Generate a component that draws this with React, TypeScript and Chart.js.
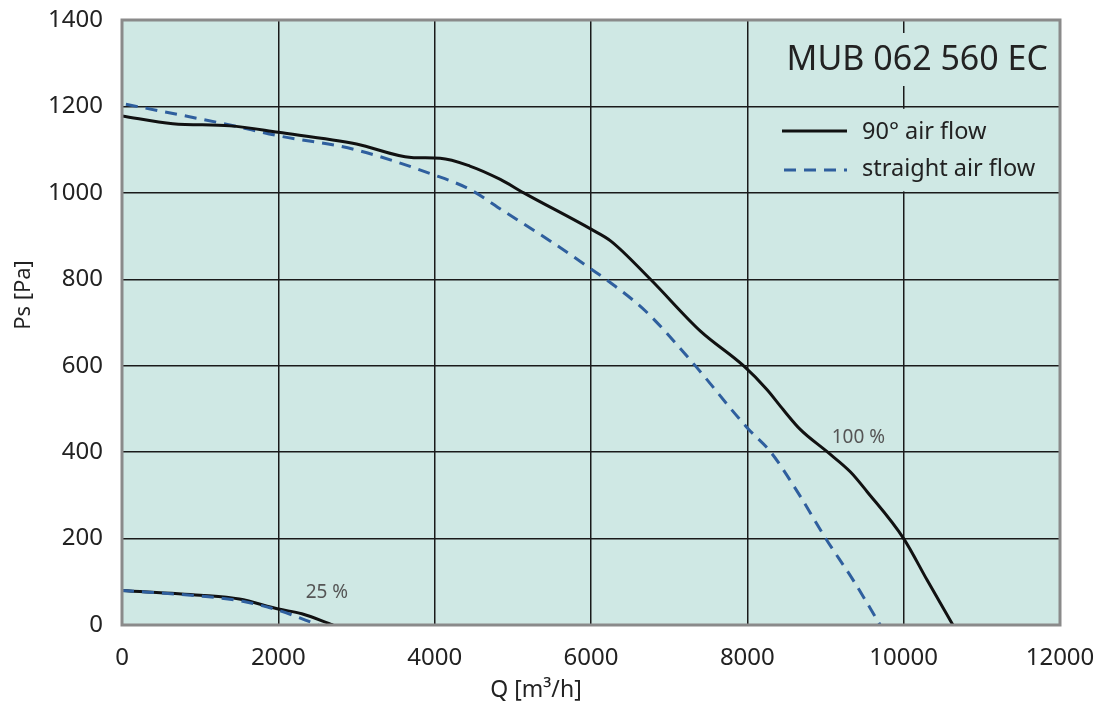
import React, { useEffect, useRef } from "react";
import { Chart, registerables } from "chart.js";

Chart.register(...registerables);

const FONT = "'Noto Sans', 'Open Sans', sans-serif";
const BG = "#cfe8e4";
const BLUE = "#2f5f9e";

const TITLE = "MUB 062 560 EC";
const LEGEND_90 = "90° air flow";
const LEGEND_STRAIGHT = "straight air flow";
const X_TITLE = "Q [m³/h]";
const Y_TITLE = "Ps [Pa]";
const LABEL_100 = "100 %";
const LABEL_25 = "25 %";

// 100 %, 90° air flow
const q90Full = [0, 650, 1380, 2000, 3000, 3700, 4070, 4450, 4840, 5140, 6000, 6250, 6760, 7400, 7950, 8250, 8460, 8680, 9020, 9320, 9530, 10000, 10300, 10630];
const p90Full = [1178, 1160, 1155, 1140, 1113, 1082, 1080, 1062, 1031, 1000, 916, 889, 800, 680, 600, 545, 498, 452, 401, 354, 309, 200, 104, 0];

// 100 %, straight air flow
const qStraightFull = [50, 1380, 2000, 2960, 4000, 4450, 4880, 5500, 6000, 6250, 6700, 7300, 8000, 8300, 8680, 9000, 9350, 9700];
const pStraightFull = [1205, 1157, 1132, 1101, 1041, 1008, 958, 886, 824, 792, 726, 607, 456, 400, 297, 201, 105, 0];

// 25 %, 90° air flow
const q90Low = [0, 1000, 1500, 2000, 2300, 2700];
const p90Low = [80, 69, 60, 37, 26, 0];

// 25 %, straight air flow
const qStraightLow = [0, 1000, 1510, 2020, 2510];
const pStraightLow = [80, 67, 56, 33, 0];

const toPts = (q: number[], p: number[]) => q.map((x, i) => ({ x, y: p[i] }));

export default function App() {
  const ref = useRef<HTMLCanvasElement>(null);

  useEffect(() => {
    if (!ref.current) return;

    const decor = {
      id: "decor",
      beforeDraw(chart: any) {
        const { ctx, chartArea: a } = chart;
        ctx.save();
        ctx.fillStyle = BG;
        ctx.fillRect(a.left, a.top, a.right - a.left, a.bottom - a.top);
        ctx.restore();
      },
      beforeDatasetsDraw(chart: any) {
        const { ctx, chartArea: a } = chart;
        ctx.save();
        // covers for title and legend
        ctx.fillStyle = BG;
        ctx.fillRect(775, 33, a.right - 777, 53);
        ctx.fillRect(770, 108.8, a.right - 772, 82.6);
        // title
        ctx.fillStyle = "#222";
        ctx.font = `34px ${FONT}`;
        ctx.textAlign = "right";
        ctx.textBaseline = "alphabetic";
        ctx.fillText(TITLE, 1048, 70);
        // legend
        ctx.lineWidth = 3;
        ctx.strokeStyle = "#111";
        ctx.beginPath();
        ctx.moveTo(782, 131);
        ctx.lineTo(847, 131);
        ctx.stroke();
        ctx.strokeStyle = BLUE;
        ctx.setLineDash([12, 8]);
        ctx.beginPath();
        ctx.moveTo(784, 170);
        ctx.lineTo(847, 170);
        ctx.stroke();
        ctx.setLineDash([]);
        ctx.fillStyle = "#222";
        ctx.font = `23.5px ${FONT}`;
        ctx.textAlign = "left";
        ctx.textBaseline = "middle";
        ctx.fillText(LEGEND_90, 862, 132);
        ctx.fillText(LEGEND_STRAIGHT, 862, 169);
        ctx.restore();
      },
      afterDraw(chart: any) {
        const { ctx, chartArea: a, scales } = chart;
        ctx.save();
        // frame
        ctx.strokeStyle = "#8a8a8a";
        ctx.lineWidth = 3;
        ctx.strokeRect(a.left, a.top, a.right - a.left, a.bottom - a.top);
        // annotations
        ctx.fillStyle = "#555";
        ctx.font = `19px ${FONT}`;
        ctx.textAlign = "left";
        ctx.textBaseline = "middle";
        ctx.fillText(LABEL_100, scales.x.getPixelForValue(9080), scales.y.getPixelForValue(433));
        ctx.fillText(LABEL_25, scales.x.getPixelForValue(2350), scales.y.getPixelForValue(75));
        // axis titles
        ctx.fillStyle = "#222";
        ctx.textAlign = "center";
        ctx.font = `23px ${FONT}`;
        ctx.fillText(X_TITLE, 536, 690);
        ctx.font = `22px ${FONT}`;
        ctx.translate(24, 295);
        ctx.rotate(-Math.PI / 2);
        ctx.fillText(Y_TITLE, 0, 0);
        ctx.restore();
      },
    };

    const lineCommon = {
      pointRadius: 0,
      borderWidth: 3,
      tension: 0.4,
      cubicInterpolationMode: "monotone" as const,
      fill: false,
    };

    const plain = (v: any) => String(v);
    const noPad = (s: any) => {
      s.paddingTop = 0;
      s.paddingBottom = 0;
      s.paddingLeft = 0;
      s.paddingRight = 0;
    };

    const chart = new Chart(ref.current, {
      type: "line",
      data: {
        datasets: [
          { ...lineCommon, label: "100% 90°", data: toPts(q90Full, p90Full), borderColor: "#111" },
          { ...lineCommon, label: "100% straight", data: toPts(qStraightFull, pStraightFull), borderColor: BLUE, borderDash: [12, 8] },
          { ...lineCommon, label: "25% straight", data: toPts(qStraightLow, pStraightLow), borderColor: BLUE, borderDash: [12, 8] },
          { ...lineCommon, label: "25% 90°", data: toPts(q90Low, p90Low), borderColor: "#111" },
        ],
      },
      options: {
        animation: false,
        responsive: true,
        maintainAspectRatio: false,
        layout: { padding: { top: 20, right: 45, left: 0, bottom: 0 } },
        plugins: { legend: { display: false }, tooltip: { enabled: false } },
        scales: {
          x: {
            type: "linear",
            min: 0,
            max: 12000,
            ticks: { stepSize: 2000, color: "#222", font: { family: FONT, size: 24 }, padding: 19, maxRotation: 0, callback: plain },
            grid: { color: "#1a1a1a", lineWidth: 1.5, drawTicks: false },
            border: { display: false },
            afterFit(s: any) {
              s.height = 81;
              noPad(s);
            },
          },
          y: {
            type: "linear",
            min: 0,
            max: 1400,
            ticks: { stepSize: 200, color: "#222", font: { family: FONT, size: 24 }, padding: 19, callback: plain },
            grid: { color: "#1a1a1a", lineWidth: 1.5, drawTicks: false },
            border: { display: false },
            afterFit(s: any) {
              s.width = 122;
              noPad(s);
            },
          },
        },
      },
      plugins: [decor],
    });

    return () => chart.destroy();
  }, []);

  return (
    <div style={{ position: "absolute", left: 0, top: 0, width: 1105, height: 706 }}>
      <canvas ref={ref} />
    </div>
  );
}
